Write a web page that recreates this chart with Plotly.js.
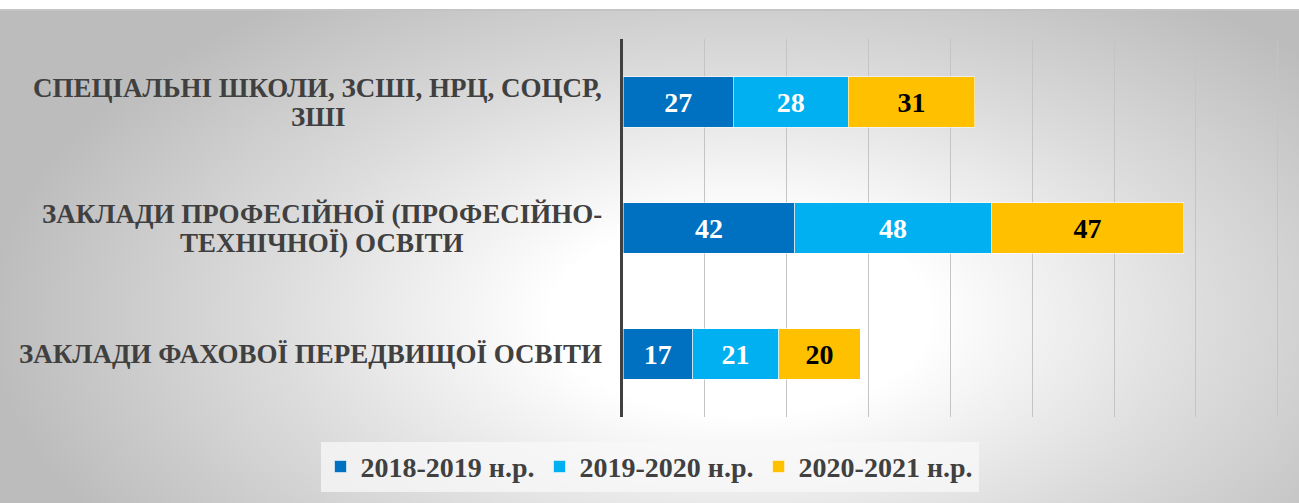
<!DOCTYPE html>
<html>
<head>
<meta charset="utf-8">
<script src="https://cdn.plot.ly/plotly-3.0.1.min.js"></script>
<style>
  html, body { margin: 0; padding: 0; background: #ffffff; }
  #bg { position: absolute; left: 0; top: 9px; width: 1299px; height: 494px;
        border-top: 2px solid #c4c4c4; box-sizing: border-box;
        background: radial-gradient(ellipse 58% 80% at 57% 62%, #ffffff 0%, #ffffff 25%, #dcdcdc 62%, #bcbcbc 100%); }
  #chart { position: absolute; left: 0; top: 0; width: 1299px; height: 503px; }
</style>
</head>
<body>
<div id="bg"></div>
<div id="chart"></div>
<script>
// Categories (bottom to top as drawn)
const categories = [
  "ЗАКЛАДИ ФАХОВОЇ ПЕРЕДВИЩОЇ ОСВІТИ",
  "ЗАКЛАДИ ПРОФЕСІЙНОЇ (ПРОФЕСІЙНО-<br>ТЕХНІЧНОЇ) ОСВІТИ",
  "СПЕЦІАЛЬНІ ШКОЛИ, ЗСШІ, НРЦ, СОЦСР,<br>ЗШІ"
];
const seriesNames = ["2018-2019 н.р.", "2019-2020 н.р.", "2020-2021 н.р."];
const values2018 = [17, 42, 27];
const values2019 = [21, 48, 28];
const values2020 = [20, 47, 31];

const colors = ["#0070C0", "#00B0F0", "#FFC000"];
const textColors = ["#ffffff", "#ffffff", "#000000"];
const serif = "Liberation Serif";
const labelSize = 27;
const labelLineGap = 29;
const labelGap = 21; // px between label block and axis

const allValues = [values2018, values2019, values2020];
const traces = allValues.map((vals, i) => ({
  type: "bar",
  orientation: "h",
  name: seriesNames[i],
  y: categories,
  x: vals,
  width: 0.4,
  marker: { color: colors[i], line: { color: "rgba(255,255,255,0.55)", width: 1 } },
  text: vals.map(String),
  textposition: "inside",
  insidetextanchor: "middle",
  textangle: 0,
  textfont: { family: serif, size: 28, color: textColors[i], weight: "bold" },
  hoverinfo: "skip"
}));

// Category labels: one annotation per line so line spacing matches; lines centred in block.
const ctx = document.createElement("canvas").getContext("2d");
ctx.font = "bold " + labelSize + "px 'Liberation Serif'";
const annotations = [];
categories.forEach(c => {
  const lines = c.split("<br>");
  const maxW = Math.max(...lines.map(l => ctx.measureText(l).width));
  const centerShift = -labelGap - maxW / 2;
  lines.forEach((l, k) => {
    annotations.push({
      xref: "paper", yref: "y", x: 0, y: c,
      xshift: centerShift,
      yshift: ((lines.length - 1) / 2 - k) * labelLineGap,
      xanchor: "center", yanchor: "middle", align: "center",
      text: l, showarrow: false,
      font: { family: serif, size: labelSize, color: "#404040", weight: "bold" }
    });
  });
});

const layout = {
  width: 1299, height: 503,
  margin: { l: 623, r: 20, t: 39, b: 86 },
  paper_bgcolor: "rgba(0,0,0,0)",
  plot_bgcolor: "rgba(0,0,0,0)",
  barmode: "stack",
  showlegend: true,
  font: { family: serif },
  xaxis: {
    range: [0, 160.3], dtick: 20, tick0: 0,
    showgrid: true, gridcolor: "#c4c4c4", gridwidth: 1,
    showticklabels: false, zeroline: false, showline: false, ticks: ""
  },
  yaxis: {
    type: "category", range: [-0.5, 2.5],
    showticklabels: false, showgrid: false, zeroline: false,
    showline: true, linecolor: "#404040", linewidth: 3, ticks: ""
  },
  legend: {
    orientation: "h", xref: "container", yref: "container",
    x: 0.5, xanchor: "center", y: 0.072, yanchor: "middle",
    bgcolor: "rgba(248,248,248,0.75)",
    font: { family: serif, size: 28, color: "#404040", weight: "bold" },
    traceorder: "normal", itemwidth: 30
  },
  annotations: annotations
};

Plotly.newPlot("chart", traces, layout, { displayModeBar: false, staticPlot: true });
</script>
</body>
</html>
